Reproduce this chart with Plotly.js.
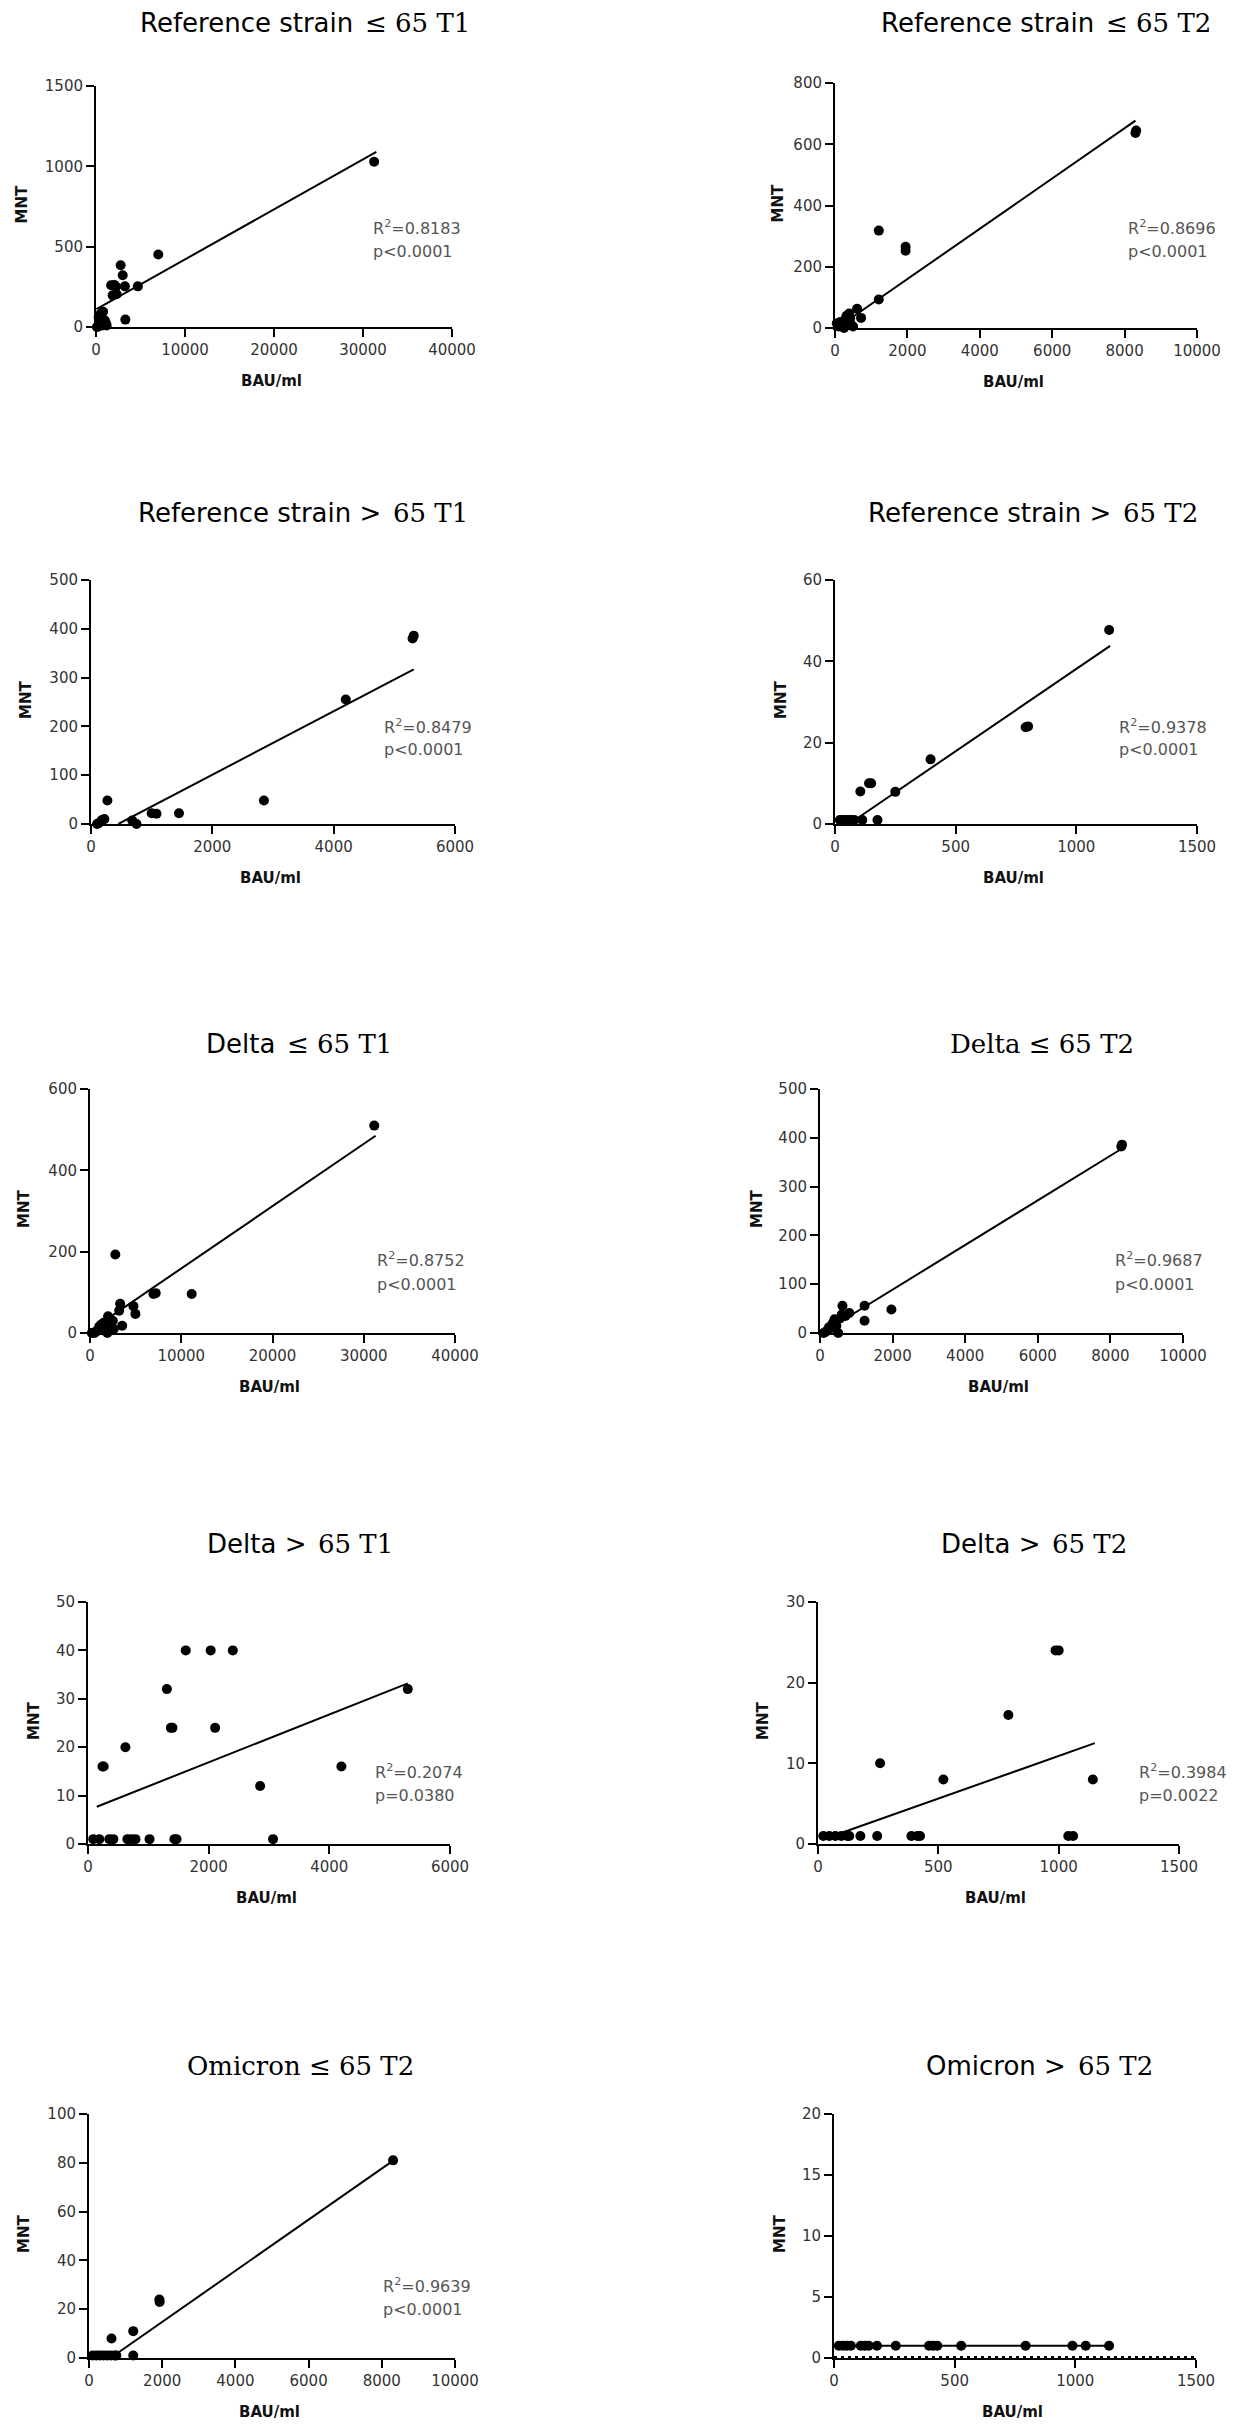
<!DOCTYPE html>
<html>
<head>
<meta charset="utf-8">
<script src="https://cdn.plot.ly/plotly-3.0.1.min.js"></script>
<style>html,body{margin:0;padding:0;background:#fff;}</style>
</head>
<body>
<div id="chart" style="width:1244px;height:2433px;"></div>
<script>
// ---------- data ----------
// panel titles: sans-serif lead part + serif tail part
const titleSans = ['Reference strain', 'Reference strain', 'Reference strain >', 'Reference strain >', 'Delta', '', 'Delta >', 'Delta >', '', 'Omicron >'];
const titleSerif = ['≤ 65 T1', '≤ 65 T2', '65 T1', '65 T2', '≤ 65 T1', 'Delta ≤ 65 T2', '65 T1', '65 T2', 'Omicron ≤ 65 T2', '65 T2'];
const xLabel = 'BAU/ml';
const yLabel = 'MNT';
const xMax = [40000, 10000, 6000, 1500, 40000, 10000, 6000, 1500, 10000, 1500];
const xStep = [10000, 2000, 2000, 500, 10000, 2000, 2000, 500, 2000, 500];
const yMax = [1500, 800, 500, 60, 600, 500, 50, 30, 100, 20];
const yStep = [500, 200, 100, 20, 200, 100, 10, 10, 20, 5];
const r2Text = ['0.8183', '0.8696', '0.8479', '0.9378', '0.8752', '0.9687', '0.2074', '0.3984', '0.9639', null];
const pText = ['p&lt;0.0001', 'p&lt;0.0001', 'p&lt;0.0001', 'p&lt;0.0001', 'p&lt;0.0001', 'p&lt;0.0001', 'p=0.0380', 'p=0.0022', 'p&lt;0.0001', null];

// points (BAU/ml, MNT)
const p1x = [31250, 7000, 2770, 3000, 3250, 4700, 1700, 2050, 2250, 1870, 2320, 3300, 300, 500, 800, 1000, 1100, 700, 400, 200, 900, 600, 100, 1200];
const p1y = [1028, 451, 384, 322, 253, 253, 260, 262, 250, 197, 204, 46, 60, 80, 95, 40, 25, 10, 15, 2, 30, 45, 0, 10];
const p2x = [8300, 8320, 1210, 1950, 1950, 1210, 720, 610, 390, 300, 350, 200, 100, 50, 450, 500, 250, 150, 320, 420];
const p2y = [637, 645, 318, 252, 265, 93, 33, 63, 47, 30, 20, 10, 5, 15, 10, 5, 0, 20, 40, 30];
const p3x = [5300, 5320, 4200, 2850, 1450, 1000, 1080, 270, 180, 130, 220, 680, 750, 100];
const p3y = [380, 386, 255, 48, 22, 22, 21, 48, 8, 2, 10, 7, 0, 0];
const p4x = [1136, 790, 800, 396, 250, 141, 150, 105, 176, 113, 20, 30, 40, 50, 60, 70, 80];
const p4y = [47.7, 23.8, 24, 15.9, 7.9, 10, 10, 8, 1, 1, 1, 1, 1, 1, 1, 1, 1];
const p5x = [31150, 2775, 6960, 7200, 11145, 3304, 3200, 4758, 4978, 3524, 1982, 2291, 1800, 1500, 1000, 800, 500, 1300, 1900, 2600, 200, 1200, 2500];
const p5y = [510, 193, 96, 98, 96, 72, 55, 66, 47, 18, 41, 15, 20, 25, 15, 5, 0, 10, 0, 10, 0, 20, 30];
const p6x = [8300, 8320, 619, 1227, 1967, 1227, 807, 700, 550, 400, 450, 300, 200, 100, 500, 350, 250, 150, 600];
const p6y = [382, 386, 56, 56, 48, 25, 41, 35, 30, 28, 15, 10, 5, 0, 0, 20, 12, 2, 38];
const p7x = [5300, 4200, 2853, 3067, 1620, 2033, 2400, 1307, 1373, 1400, 2107, 620, 240, 260, 87, 187, 353, 420, 653, 720, 787, 1020, 1433, 1467];
const p7y = [32, 16, 12, 1, 40, 40, 40, 32, 24, 24, 24, 20, 16, 16, 1, 1, 1, 1, 1, 1, 1, 1, 1, 1];
const p8x = [987, 1000, 791, 1142, 521, 258, 1040, 1060, 22, 47, 72, 97, 122, 130, 176, 246, 388, 413, 424];
const p8y = [24, 24, 16, 8, 8, 10, 1, 1, 1, 1, 1, 1, 1, 1, 1, 1, 1, 1, 1];
const p9x = [8308, 1923, 1930, 1209, 615, 1209, 100, 200, 300, 400, 500, 600, 700, 747];
const p9y = [81, 24, 23, 11, 8, 1, 1, 1, 1, 1, 1, 1, 1, 1];
const p10x = [20, 37, 53, 70, 111, 128, 144, 178, 256, 394, 411, 428, 527, 794, 988, 1043, 1140];
const p10y = [1, 1, 1, 1, 1, 1, 1, 1, 1, 1, 1, 1, 1, 1, 1, 1, 1];

// regression line end points
const fitX = [[50, 31500], [100, 8300], [450, 5320], [70, 1140], [100, 31300], [100, 8300], [146, 5300], [90, 1150], [637, 8300], [20, 1140]];
const fitY = [[111, 1090], [4, 677], [0, 317], [0.5, 43.8], [7, 485], [2, 377], [7.7, 33.2], [1.3, 12.5], [0.5, 80.8], [1, 1]];

const pointsX = [p1x, p2x, p3x, p4x, p5x, p6x, p7x, p8x, p9x, p10x];
const pointsY = [p1y, p2y, p3y, p4y, p5y, p6y, p7y, p8y, p9y, p10y];

// ---------- layout geometry (px) ----------
const W = 1244, H = 2433;
const boxes = [
  [96, 452, 86, 327], [835, 1197, 83, 328],
  [91, 455, 580, 824], [835, 1197, 580, 824],
  [90, 455, 1089, 1333], [820, 1183, 1089, 1333],
  [88, 450, 1602, 1844], [818, 1179, 1602, 1844],
  [89, 455, 2114, 2358], [834, 1196, 2114, 2358]
];
// [sans right edge, serif left edge, centre y]; a single-part title is centred on the first value
const titlePos = [[355, 363, 23], [1096, 1104, 23], [383, 391, 513], [1113, 1121, 513], [277, 285, 1044],
                  [1042, 1042, 1044], [308, 316, 1544], [1042, 1050, 1544], [300, 300, 2066], [1068, 1076, 2066]];
const statPos = [[371, 227, 251], [1126, 227, 251], [382, 726, 749], [1117, 726, 749], [375, 1259, 1284], [1113, 1259, 1284], [373, 1771, 1795], [1137, 1771, 1795], [381, 2285, 2309], null];
const mntX = [21, 777, 26, 781, 24, 757, 34, 763, 24, 780];

const px = v => v / W;
const py = v => 1 - v / H;

const traces = [];
const layout = {
  width: W, height: H,
  margin: {l: 0, r: 0, t: 0, b: 0},
  paper_bgcolor: '#fff', plot_bgcolor: 'rgba(0,0,0,0)',
  showlegend: false,
  annotations: [],
  shapes: []
};

const tickFont = {family: 'DejaVu Sans', size: 15, color: '#333'};
const labelFont = {family: 'DejaVu Sans', size: 15, color: '#111'};
const statFont = {family: 'DejaVu Sans', size: 16, color: '#555'};
const sansTitleFont = {family: 'DejaVu Sans', size: 26, color: '#000'};
const serifTitleFont = {family: 'DejaVu Serif', size: 26, color: '#000'};

for (let i = 0; i < 10; i++) {
  const n = i === 0 ? '' : String(i + 1);
  const b = boxes[i];
  const axCommon = {
    showline: true, linecolor: '#000', linewidth: 2,
    ticks: 'outside', ticklen: 8, tickwidth: 2, tickcolor: '#000',
    showgrid: false, zeroline: false, tick0: 0,
    tickformat: 'd', tickfont: tickFont, fixedrange: true
  };
  layout['xaxis' + n] = Object.assign({}, axCommon, {
    domain: [px(b[0]), px(b[1])], range: [0, xMax[i]], dtick: xStep[i],
    anchor: 'y' + n
  });
  layout['yaxis' + n] = Object.assign({}, axCommon, {
    domain: [py(b[3]), py(b[2])], range: [0, yMax[i]], dtick: yStep[i],
    anchor: 'x' + n
  });

  traces.push({
    type: 'scatter', mode: 'lines', x: fitX[i], y: fitY[i],
    xaxis: 'x' + n, yaxis: 'y' + n,
    line: {color: '#000', width: 2}, hoverinfo: 'skip', cliponaxis: false
  });
  traces.push({
    type: 'scatter', mode: 'markers', x: pointsX[i], y: pointsY[i],
    xaxis: 'x' + n, yaxis: 'y' + n,
    marker: {color: '#000', size: 10}, cliponaxis: false
  });

  // panel title (two parts: sans lead, serif tail)
  const t = titlePos[i];
  if (titleSans[i]) {
    layout.annotations.push({
      xref: 'paper', yref: 'paper', x: px(t[0]), y: py(t[2]),
      xanchor: 'right', yanchor: 'middle', showarrow: false,
      text: titleSans[i], font: sansTitleFont
    });
    layout.annotations.push({
      xref: 'paper', yref: 'paper', x: px(t[1]), y: py(t[2]),
      xanchor: 'left', yanchor: 'middle', showarrow: false,
      text: titleSerif[i], font: serifTitleFont
    });
  } else {
    layout.annotations.push({
      xref: 'paper', yref: 'paper', x: px(t[0]), y: py(t[2]),
      xanchor: 'center', yanchor: 'middle', showarrow: false,
      text: titleSerif[i], font: serifTitleFont
    });
  }
  // axis labels
  layout.annotations.push({
    xref: 'paper', yref: 'paper', x: px((b[0] + b[1]) / 2 - 3), y: py(b[3] + 54),
    xanchor: 'center', yanchor: 'middle', showarrow: false,
    text: '<b>' + xLabel + '</b>', font: labelFont
  });
  layout.annotations.push({
    xref: 'paper', yref: 'paper', x: px(mntX[i]), y: py((b[2] + b[3]) / 2 - 2),
    xanchor: 'center', yanchor: 'middle', showarrow: false, textangle: -90,
    text: '<b>' + yLabel + '</b>', font: labelFont
  });
  // statistics
  if (statPos[i]) {
    const s = statPos[i];
    layout.annotations.push({
      xref: 'paper', yref: 'paper', x: px(s[0]), y: py(s[1]),
      xanchor: 'left', yanchor: 'middle', showarrow: false,
      text: 'R<sup>2</sup>=' + r2Text[i], font: statFont
    });
    layout.annotations.push({
      xref: 'paper', yref: 'paper', x: px(s[0]), y: py(s[2]),
      xanchor: 'left', yanchor: 'middle', showarrow: false,
      text: pText[i], font: statFont
    });
  }
}

// beaded baseline on the last panel's x axis
layout.shapes.push({
  type: 'line', xref: 'x10', yref: 'y10', x0: 0, x1: 1500, y0: 0, y1: 0,
  line: {color: '#000', width: 4, dash: '3px,4px'}, layer: 'above'
});

Plotly.newPlot('chart', traces, layout, {staticPlot: true, displayModeBar: false});
</script>
</body>
</html>
